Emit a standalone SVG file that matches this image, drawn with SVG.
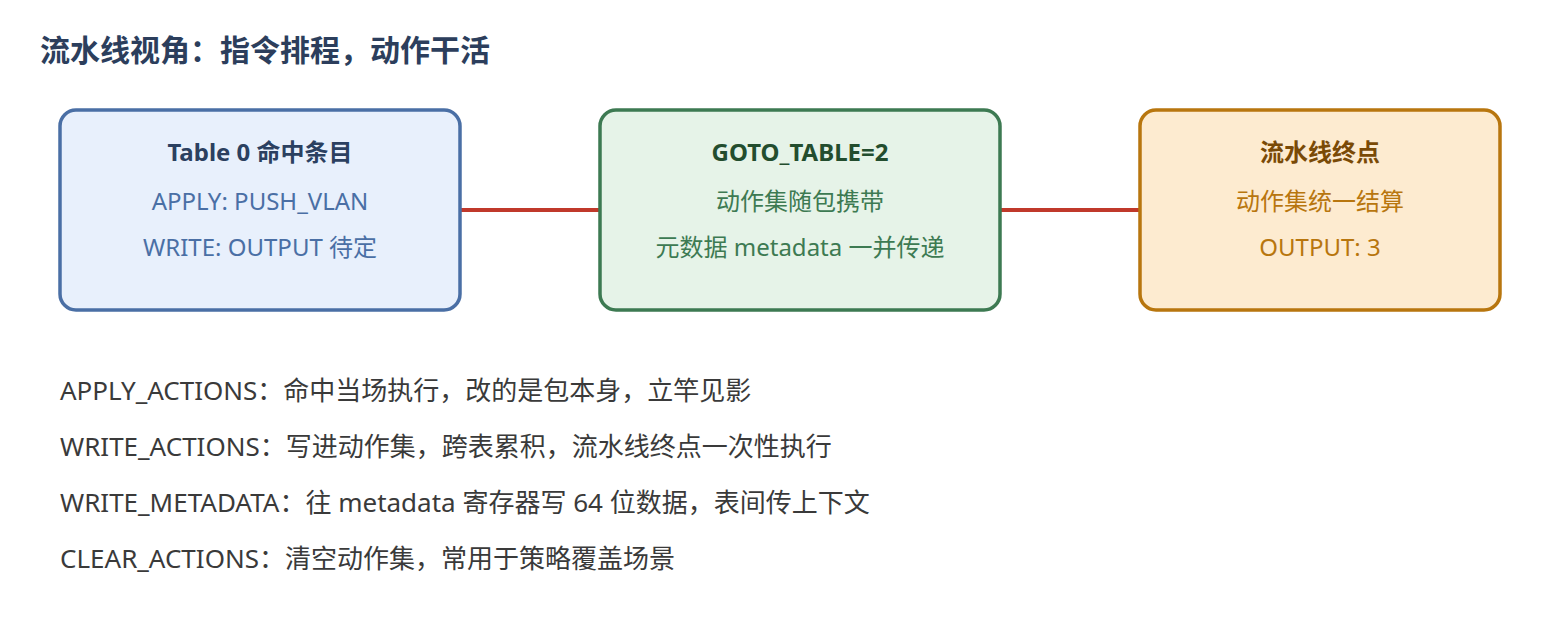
<svg xmlns="http://www.w3.org/2000/svg" width="1560" height="640" viewBox="0 0 1560 640">
<style>
text{font-family:"Noto Sans","Noto Sans CJK SC",sans-serif;}
.title{font-size:30px;font-weight:bold;fill:#2c3e5c;}
.nt{font-size:24px;font-weight:bold;text-anchor:middle;}
.nl{font-size:24px;text-anchor:middle;}
.note{font-size:26px;fill:#3a3a3a;}
.box{stroke-width:3.5;}
</style>
<rect width="1560" height="640" fill="#ffffff"/>
<text class="title" x="40" y="61">流水线视角：指令排程，动作干活</text>
<g id="connectors" stroke="#c0392b" stroke-width="4" fill="none">
<line x1="460" y1="210" x2="600" y2="210"/>
<line x1="1000" y1="210" x2="1140" y2="210"/>
</g>
<g id="node-table0">
<rect class="box" x="60" y="110" width="400" height="200" rx="16" fill="#e8f0fc" stroke="#4a6fa5"/>
<text class="nt" x="260" y="161" fill="#2b4060">Table 0 命中条目</text>
<text class="nl" x="260" y="210" fill="#4a6fa5">APPLY: PUSH_VLAN</text>
<text class="nl" x="260" y="256" fill="#4a6fa5">WRITE: OUTPUT 待定</text>
</g>
<g id="node-goto">
<rect class="box" x="600" y="110" width="400" height="200" rx="16" fill="#e6f3e8" stroke="#3d7a52"/>
<text class="nt" x="800" y="161" fill="#234d2e">GOTO_TABLE=2</text>
<text class="nl" x="800" y="210" fill="#3d7a52">动作集随包携带</text>
<text class="nl" x="800" y="256" fill="#3d7a52">元数据 metadata 一并传递</text>
</g>
<g id="node-end">
<rect class="box" x="1140" y="110" width="360" height="200" rx="16" fill="#fdebd0" stroke="#b8760e"/>
<text class="nt" x="1320" y="161" fill="#7a4a06">流水线终点</text>
<text class="nl" x="1320" y="210" fill="#b8760e">动作集统一结算</text>
<text class="nl" x="1320" y="256" fill="#b8760e">OUTPUT: 3</text>
</g>
<g id="notes">
<text class="note" x="60" y="400">APPLY_ACTIONS：命中当场执行，改的是包本身，立竿见影</text>
<text class="note" x="60" y="456">WRITE_ACTIONS：写进动作集，跨表累积，流水线终点一次性执行</text>
<text class="note" x="60" y="512">WRITE_METADATA：往 metadata 寄存器写 64 位数据，表间传上下文</text>
<text class="note" x="60" y="568">CLEAR_ACTIONS：清空动作集，常用于策略覆盖场景</text>
</g>
</svg>
